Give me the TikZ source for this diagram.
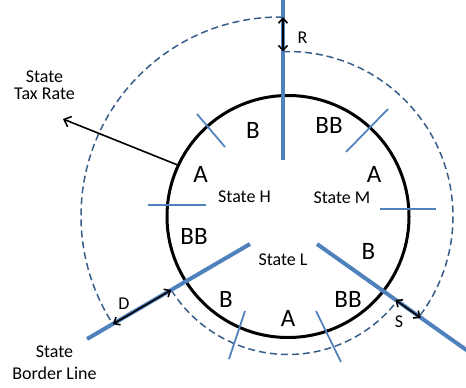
\documentclass[tikz,border=0pt]{standalone}
\usepackage{fontspec}
\setmainfont{Carlito}
\usetikzlibrary{arrows.meta}
\definecolor{borderblue}{HTML}{4F81BD}
\definecolor{reachblue}{HTML}{385D8A}

\begin{document}
\begin{tikzpicture}[x=1pt, y=-1pt,
    zone/.style={font=\fontsize{25}{30}\selectfont, inner sep=0pt, anchor=base},
    statelbl/.style={font=\fontsize{18}{22}\selectfont, inner sep=0pt, anchor=base},
    outlbl/.style={font=\fontsize{18}{22}\selectfont, inner sep=0pt, align=center},
    border/.style={draw=borderblue, line width=4pt},
    tick/.style={draw=borderblue, line width=1.75pt},
    reach/.style={draw=reachblue, line width=1.5pt, dash pattern=on 7pt off 4pt},
    gap/.style={{Straight Barb[length=5pt,width=9pt]}-{Straight Barb[length=5pt,width=9pt]}, line width=1.6pt},
    arr/.style={-{Straight Barb[length=6pt,width=11pt]}, line width=1.6pt},
]
\useasboundingbox (0,0) rectangle (466,388);

% Centres and reach ends
\coordinate (cen) at (288,216.5);
\coordinate (hcen) at (280,216);
\coordinate (hTop) at ([shift={(270.86:199)}]hcen);
\coordinate (hLow) at ([shift={(147.1:199)}]hcen);
\coordinate (mTop) at ([shift={(-91.74:165)}]cen);
\coordinate (mLow) at ([shift={(37.4:167)}]cen);
\coordinate (lLeft) at ([shift={(147.8:138)}]cen);
\coordinate (lRight) at ([shift={(37.8:136)}]cen);

% Dashed reach of each state
\draw[reach] (hTop) arc[start angle=270.86, end angle=147.1, radius=199];
\draw[reach] (mTop) arc[start angle=-91.74, end angle=37.4, radius=165];
\draw[reach] (lLeft) arc[start angle=147.8, end angle=37.8, radius=138];

% States circle
\node[circle, draw, line width=3pt, minimum size=242pt, inner sep=0pt] (region) at (cen) {};

% Rate ticks
\draw[tick] (197,114) -- (225,147);
\draw[tick] (346,152) -- (388,109);
\draw[tick] (148,205) -- (206,205);
\draw[tick] (380,209) -- (436,209);
\draw[tick] (245,311) -- (229,359);
\draw[tick] (316,311) -- (341,362);

% Border lines
\coordinate (rIn) at (283,160);
\coordinate (rOut) at (283,-5);
\coordinate (dIn) at (250,244);
\coordinate (dOut) at (87,339);
\coordinate (sIn) at (317,244);
\coordinate (sOut) at (472,354);
\draw[border] (rIn) -- (rOut);
\draw[border] (dIn) -- (dOut);
\draw[border] (sIn) -- (sOut);

% Gaps
\draw[gap] (hTop) -- (mTop);
\draw[gap] (hLow) -- (lLeft);
\draw[gap] (lRight) -- (mLow);
\node[statelbl] (lblR) at (302.5,43) {R};
\node[statelbl] (lblD) at (124,309) {D};
\node[statelbl] (lblS) at (399,327) {S};

% Zone letters
\node[zone] (bTop) at (253,138) {B};
\node[zone] (bbTop) at (329,133) {BB};
\node[zone] (aRight) at (374,182) {A};
\node[zone] (bRight) at (368.5,259) {B};
\node[zone] (bbBottom) at (348,307) {BB};
\node[zone] (aBottom) at (288,326) {A};
\node[zone] (bBottom) at (226,307) {B};
\node[zone] (bbLeft) at (194,244) {BB};
\node[zone] (aLeft) at (200.5,182) {A};

% State names
\node[statelbl] (stateH) at (244.5,202) {State H};
\node[statelbl] (stateM) at (342,203) {State M};
\node[statelbl] (stateL) at (283,265) {State L};

% Outside labels
\node[outlbl, font=\fontsize{18}{17.5}\selectfont] (taxRate) at (44.5,85) {State\\Tax Rate};
\node[outlbl] (borderLine) at (54.5,362.5) {State\\Border Line};
\coordinate (taxTip) at (63,119);
\draw[arr] (region.155.3) -- (taxTip);
\end{tikzpicture}
\end{document}
